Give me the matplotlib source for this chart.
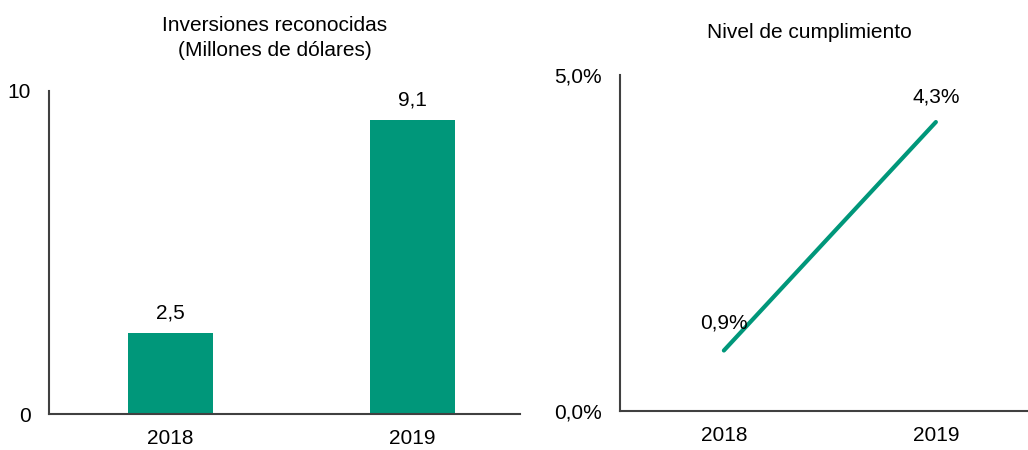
import matplotlib
matplotlib.use("Agg")
import matplotlib.pyplot as plt

plt.rcParams['font.family'] = ['Liberation Sans', 'DejaVu Sans']

years = ["2018", "2019"]
inversiones = [2.5, 9.1]
inversiones_labels = ["2,5", "9,1"]
cumplimiento = [0.9, 4.3]
cumplimiento_labels = ["0,9%", "4,3%"]

GREEN = "#00977A"
SPINE = "#404040"
FS = 15

W, H = 1028, 450
fig = plt.figure(figsize=(W / 100, H / 100), dpi=100)

def px_axes(x0, y0, x1, y1):
    return fig.add_axes([x0 / W, 1 - y1 / H, (x1 - x0) / W, (y1 - y0) / H])

# Left: bars
ax1 = px_axes(49, 91, 520, 414)
xs = list(range(len(years)))
ax1.bar(xs, inversiones, width=0.35, color=GREEN)
ax1.set_xlim(-0.502, -0.502 + 471 / 242)
ax1.set_ylim(0, 10)
ax1.set_yticks([0, 10])
ax1.set_yticklabels(["0", "10"])
ax1.set_xticks(xs)
ax1.set_xticklabels(years)
for x, v, lab in zip(xs, inversiones, inversiones_labels):
    ax1.annotate(lab, (x, v), xytext=(0, 14.5), textcoords="offset points",
                 ha="center", va="center", fontsize=FS)

# Right: line
ax2 = px_axes(620, 75, 1028, 411)
ax2.plot(xs, cumplimiento, color=GREEN, lw=3, solid_capstyle="round")
ax2.set_xlim(-0.49, -0.49 + 408 / 212)
ax2.set_ylim(0, 5)
ax2.set_yticks([0, 5])
ax2.set_yticklabels(["0,0%", "5,0%"])
ax2.set_xticks(xs)
ax2.set_xticklabels(years)
offs = [19.5, 18]
for x, v, lab, o in zip(xs, cumplimiento, cumplimiento_labels, offs):
    ax2.annotate(lab, (x, v), xytext=(0, o), textcoords="offset points",
                 ha="center", va="center", fontsize=FS)

for ax in (ax1, ax2):
    for s in ("top", "right"):
        ax.spines[s].set_visible(False)
    for s in ("left", "bottom"):
        ax.spines[s].set_color(SPINE)
        ax.spines[s].set_linewidth(1.5)
    ax.tick_params(axis="both", length=0, labelsize=FS)
    ax.tick_params(axis="y", pad=13)
    ax.tick_params(axis="x", pad=11)

fig.text(275 / W, 1 - 38 / H, "Inversiones reconocidas\n(Millones de dólares)",
         ha="center", va="center", fontsize=FS, linespacing=1.35)
fig.text(809 / W, 1 - 33 / H, "Nivel de cumplimiento",
         ha="center", va="center", fontsize=FS)

fig.savefig("out.png", dpi=100)
